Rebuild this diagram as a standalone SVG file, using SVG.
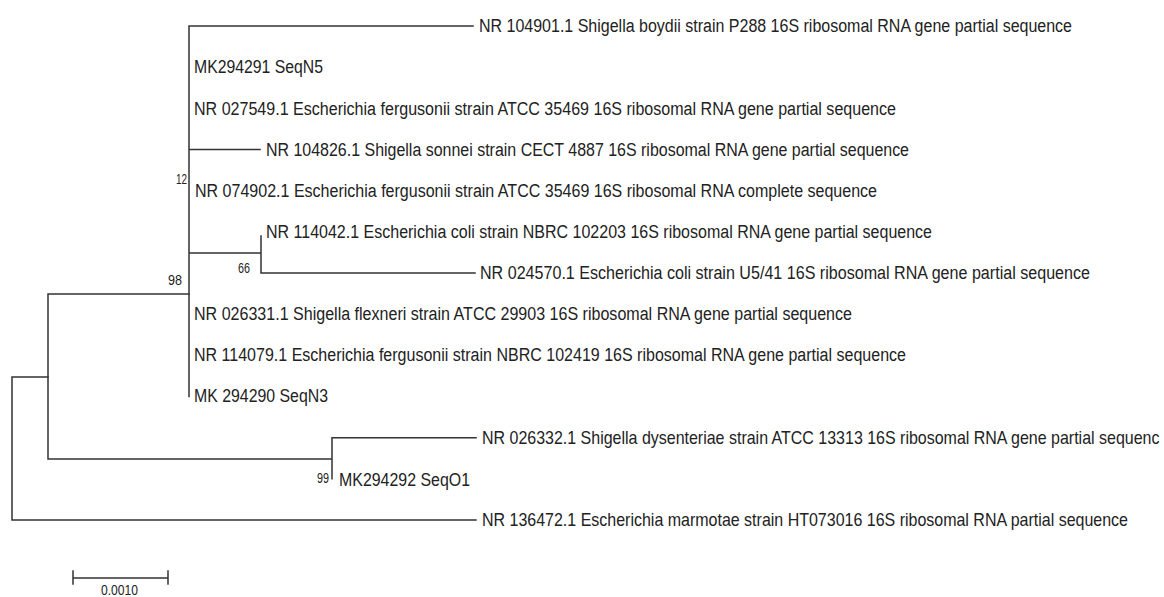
<svg xmlns="http://www.w3.org/2000/svg" width="1164" height="597" viewBox="0 0 1164 597">
<style>
.ln{stroke:#333;stroke-width:1.5;fill:none;stroke-linecap:square}
.lb{font-family:"Liberation Sans",Arial,sans-serif;font-size:18px;fill:#222}
.bs{font-family:"Liberation Sans",Arial,sans-serif;font-size:15px;fill:#222}
</style>
<rect width="1164" height="597" fill="#fff"/>
<g id="connectors">
<path class="ln" d="M189 26V396.5M189 26H473M189 149.5H260M189 253H261M261 236V273H475"/>
<path class="ln" d="M48 294H189M48 294V459H332M332 437.7V478.8M332 437.7H476"/>
<path class="ln" d="M12 377H48M12 377V520H476"/>
</g>
<g id="leaf-nr104901"><text class="lb" x="479" y="32" textLength="593" lengthAdjust="spacingAndGlyphs">NR 104901.1 Shigella boydii strain P288 16S ribosomal RNA gene partial sequence</text></g>
<g id="leaf-mk294291"><text class="lb" x="194" y="73" textLength="129" lengthAdjust="spacingAndGlyphs">MK294291 SeqN5</text></g>
<g id="leaf-nr027549"><text class="lb" x="194" y="114.5" textLength="702" lengthAdjust="spacingAndGlyphs">NR 027549.1 Escherichia fergusonii strain ATCC 35469 16S ribosomal RNA gene partial sequence</text></g>
<g id="leaf-nr104826"><text class="lb" x="266" y="156" textLength="643" lengthAdjust="spacingAndGlyphs">NR 104826.1 Shigella sonnei strain CECT 4887 16S ribosomal RNA gene partial sequence</text></g>
<g id="leaf-nr074902"><text class="lb" x="195" y="197" textLength="682" lengthAdjust="spacingAndGlyphs">NR 074902.1 Escherichia fergusonii strain ATCC 35469 16S ribosomal RNA complete sequence</text></g>
<g id="leaf-nr114042"><text class="lb" x="266" y="238" textLength="666" lengthAdjust="spacingAndGlyphs">NR 114042.1 Escherichia coli strain NBRC 102203 16S ribosomal RNA gene partial sequence</text></g>
<g id="leaf-nr024570"><text class="lb" x="480" y="279" textLength="610" lengthAdjust="spacingAndGlyphs">NR 024570.1 Escherichia coli strain U5/41 16S ribosomal RNA gene partial sequence</text></g>
<g id="leaf-nr026331"><text class="lb" x="194" y="320" textLength="658" lengthAdjust="spacingAndGlyphs">NR 026331.1 Shigella flexneri strain ATCC 29903 16S ribosomal RNA gene partial sequence</text></g>
<g id="leaf-nr114079"><text class="lb" x="194" y="361" textLength="712" lengthAdjust="spacingAndGlyphs">NR 114079.1 Escherichia fergusonii strain NBRC 102419 16S ribosomal RNA gene partial sequence</text></g>
<g id="leaf-mk294290"><text class="lb" x="194" y="402" textLength="134" lengthAdjust="spacingAndGlyphs">MK 294290 SeqN3</text></g>
<g id="leaf-nr026332"><text class="lb" transform="translate(482 443.5) scale(0.85 1)" x="0" y="0" textLength="797" lengthAdjust="spacingAndGlyphs">NR 026332.1 Shigella dysenteriae strain ATCC 13313 16S ribosomal RNA gene partial sequenc</text></g>
<g id="leaf-mk294292"><text class="lb" x="339" y="486" textLength="131" lengthAdjust="spacingAndGlyphs">MK294292 SeqO1</text></g>
<g id="leaf-nr136472"><text class="lb" transform="translate(482 526) scale(0.85 1)" x="0" y="0" textLength="760" lengthAdjust="spacingAndGlyphs">NR 136472.1 Escherichia marmotae strain HT073016 16S ribosomal RNA partial sequence</text></g>
<g id="bootstrap">
<text class="bs" x="176" y="184" textLength="11" lengthAdjust="spacingAndGlyphs">12</text>
<text class="bs" x="238" y="273" textLength="12" lengthAdjust="spacingAndGlyphs">66</text>
<text class="bs" x="168" y="285" textLength="14" lengthAdjust="spacingAndGlyphs">98</text>
<text class="bs" x="317" y="483" textLength="12" lengthAdjust="spacingAndGlyphs">99</text>
</g>
<g id="scale-bar">
<path class="ln" d="M73 578H168M73 571V584M168 571V584"/>
<text class="bs" x="101" y="595" textLength="37" lengthAdjust="spacingAndGlyphs">0.0010</text>
</g>
</svg>
